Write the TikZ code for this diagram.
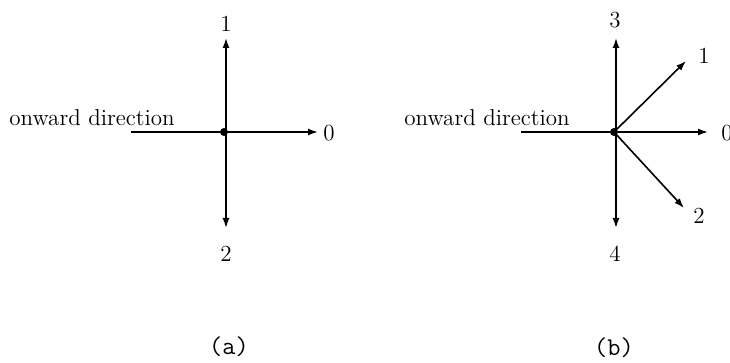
\documentclass[tikz,border=0pt]{standalone}
\usetikzlibrary{arrows.meta,positioning}

\tikzset{
    arr/.style={thick, -{Latex[length=5pt,width=3.5pt]}},
    lbl/.style={font=\fontsize{11.5}{13}\selectfont, inner sep=1pt},
    captext/.style={font=\fontsize{12.8}{14}\selectfont\ttfamily},
    hub/.style={circle, fill, inner sep=0pt, minimum size=4pt}
}

\begin{document}
\begin{tikzpicture}[x=0.5pt,y=-0.5pt]
\clip (0,0) rectangle (730,363);

% (a) three way junction
\node[hub] (ca) at (224,132) {};
\coordinate (va) at (226,132);
\coordinate (ina) at (131,132);
\coordinate (a0) at (318,132);
\coordinate (a1) at (226,38);
\coordinate (a2) at (226,228);
\node[lbl] (la0) at (329,133) {0};
\node[lbl] (la1) at (226,24) {1};
\node[lbl] (la2) at (226,254) {2};
\node[lbl, anchor=base east] (onwa) at (177,126) {onward direction};
\draw[thick] (ina) -- (ca);
\draw[arr] (ca) -- (a0);
\draw[arr] (va) -- (a1);
\draw[arr] (va) -- (a2);

% (b) five way junction
\node[hub] (cb) at (614,132) {};
\coordinate (vb) at (616,132);
\coordinate (inb) at (521,132);
\coordinate (b0) at (708,132);
\coordinate (b1) at (686,61);
\coordinate (b2) at (684,208);
\coordinate (b3) at (616,38);
\coordinate (b4) at (616,228);
\node[lbl] (lb0) at (727,133) {0};
\node[lbl] (lb1) at (704,56) {1};
\node[lbl] (lb2) at (699,216) {2};
\node[lbl] (lb3) at (615,20) {3};
\node[lbl] (lb4) at (615,254) {4};
\node[lbl, anchor=base east] (onwb) at (572,126) {onward direction};
\draw[thick] (inb) -- (cb);
\draw[arr] (cb) -- (b0);
\draw[arr] (cb.center) -- (b1);
\draw[arr] (cb.center) -- (b2);
\draw[arr] (vb) -- (b3);
\draw[arr] (vb) -- (b4);

% captions
\node[captext] (capa) at (229,347) {(a)};
\node[captext] (capb) at (614,348) {(b)};
\end{tikzpicture}
\end{document}
